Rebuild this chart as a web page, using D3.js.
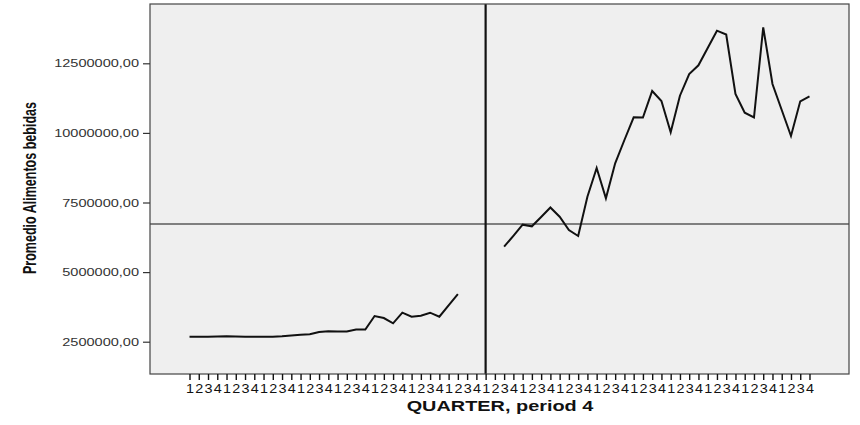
<!DOCTYPE html>
<html>
<head>
<meta charset="utf-8">
<script src="https://cdn.jsdelivr.net/npm/d3@7"></script>
<style>
  html, body { margin: 0; padding: 0; background: #ffffff; }
  svg { display: block; }
</style>
</head>
<body>
<div id="chart"></div>
<script>
// ---------- DATA ----------
const quarterLabels = [
  "1","2","3","4","1","2","3","4","1","2","3","4","1","2","3","4",
  "1","2","3","4","1","2","3","4","1","2","3","4","1","2","3","4",
  "1","2","3","4","1","2","3","4","1","2","3","4","1","2","3","4",
  "1","2","3","4","1","2","3","4","1","2","3","4","1","2","3","4",
  "1","2","3","4"
];
// Promedio Alimentos bebidas, one value per quarter (null = no data)
const values = [
  2680000, 2680000, 2680000, 2690000, 2694000, 2690000, 2680000, 2680000,
  2680000, 2680000, 2694000, 2723000, 2748000, 2766000, 2848000, 2874000,
  2866000, 2866000, 2938000, 2938000, 3423000, 3351000, 3161000, 3542000,
  3398000, 3434000, 3542000, 3398000, 3807000, 4213000,
  null, null, null, null,
  5912000, 6304000, 6703000, 6645000, 6979000, 7320000, 6990000, 6512000,
  6297000, 7708000, 8739000, 7651000, 8908000, 9745000, 10560000, 10553000,
  11505000, 11146000, 10022000, 11336000, 12116000, 12428000, 13050000, 13671000,
  13535000, 11397000, 10726000, 10553000, 13793000, 11757000, 10823000, 9889000,
  11135000, 11315000
];
const yTickValues = [2500000, 5000000, 7500000, 10000000, 12500000];
const yDomain = [1340000, 14630000];
const referenceY = 6728000;   // horizontal reference line
const referenceX = 32;        // vertical reference line (quarter index)
const xTitle = "QUARTER, period 4";
const yTitle = "Promedio Alimentos bebidas";

// ---------- LAYOUT ----------
const W = 860, H = 425;
const plot = { left: 150, top: 4, right: 849, bottom: 374 };

const svg = d3.select("#chart").append("svg")
  .attr("width", W).attr("height", H);

const idx = d3.range(quarterLabels.length);
const x = d3.scalePoint()
  .domain(idx)
  .range([plot.left, plot.right])
  .padding(4.27);
const y = d3.scaleLinear()
  .domain(yDomain)
  .range([plot.bottom, plot.top]);

const fmtLocale = d3.formatLocale({ decimal: ",", thousands: "", grouping: [3], currency: ["", ""] });
const yFmt = fmtLocale.format(".2f");

function stretch(sel, factor) {
  sel.each(function () {
    const w = this.getComputedTextLength();
    d3.select(this).attr("textLength", w * factor).attr("lengthAdjust", "spacingAndGlyphs");
  });
}

// plot background
svg.append("rect")
  .attr("x", plot.left).attr("y", plot.top)
  .attr("width", plot.right - plot.left).attr("height", plot.bottom - plot.top)
  .attr("fill", "#efefef");

// reference lines
svg.append("line")
  .attr("x1", plot.left).attr("x2", plot.right)
  .attr("y1", y(referenceY)).attr("y2", y(referenceY))
  .attr("stroke", "#111").attr("stroke-width", 1.1);
svg.append("line")
  .attr("x1", x(referenceX)).attr("x2", x(referenceX))
  .attr("y1", plot.top).attr("y2", plot.bottom)
  .attr("stroke", "#111").attr("stroke-width", 2.2);

// data line
const line = d3.line()
  .defined(d => d.v != null)
  .x(d => x(d.i))
  .y(d => y(d.v));
svg.append("path")
  .datum(values.map((v, i) => ({ i, v })))
  .attr("d", line)
  .attr("fill", "none")
  .attr("stroke", "#111")
  .attr("stroke-width", 2)
  .attr("stroke-linejoin", "miter");

// frame
svg.append("rect")
  .attr("x", plot.left).attr("y", plot.top)
  .attr("width", plot.right - plot.left).attr("height", plot.bottom - plot.top)
  .attr("fill", "none").attr("stroke", "#444").attr("stroke-width", 1.2);

// x axis
const xAxis = svg.append("g")
  .attr("transform", `translate(0,${plot.bottom})`)
  .call(d3.axisBottom(x).tickSize(6).tickPadding(4).tickFormat(i => quarterLabels[i]));
xAxis.select(".domain").remove();
xAxis.selectAll(".tick line").attr("stroke", "#111").attr("stroke-width", 1.4);
xAxis.selectAll(".tick text")
  .attr("fill", "#111")
  .style("font-family", "'Liberation Sans', Arial, sans-serif")
  .style("font-size", "12.5px")
  .call(stretch, 1.15);

// y axis
const yAxis = svg.append("g")
  .attr("transform", `translate(${plot.left},0)`)
  .call(d3.axisLeft(y).tickValues(yTickValues).tickSize(7).tickPadding(4).tickFormat(yFmt));
yAxis.select(".domain").remove();
yAxis.selectAll(".tick line").attr("stroke", "#333").attr("stroke-width", 1.2);
yAxis.selectAll(".tick text")
  .attr("fill", "#333")
  .style("font-family", "'Liberation Sans', Arial, sans-serif")
  .style("font-size", "11px")
  .call(stretch, 1.32);

// axis titles
svg.append("text")
  .attr("x", 500).attr("y", 411)
  .attr("text-anchor", "middle")
  .style("font-family", "'Liberation Sans', Arial, sans-serif")
  .style("font-size", "14px").style("font-weight", "bold")
  .attr("fill", "#111")
  .text(xTitle)
  .call(stretch, 1.42);

svg.append("text")
  .attr("transform", "translate(36,188) rotate(-90)")
  .attr("text-anchor", "middle")
  .style("font-family", "'Liberation Sans Narrow', 'Liberation Sans', Arial, sans-serif")
  .style("font-size", "17.5px").style("font-weight", "bold")
  .attr("fill", "#111")
  .text(yTitle)
  .call(function (sel) {
    sel.attr("textLength", 172).attr("lengthAdjust", "spacingAndGlyphs");
  });
</script>
</body>
</html>
